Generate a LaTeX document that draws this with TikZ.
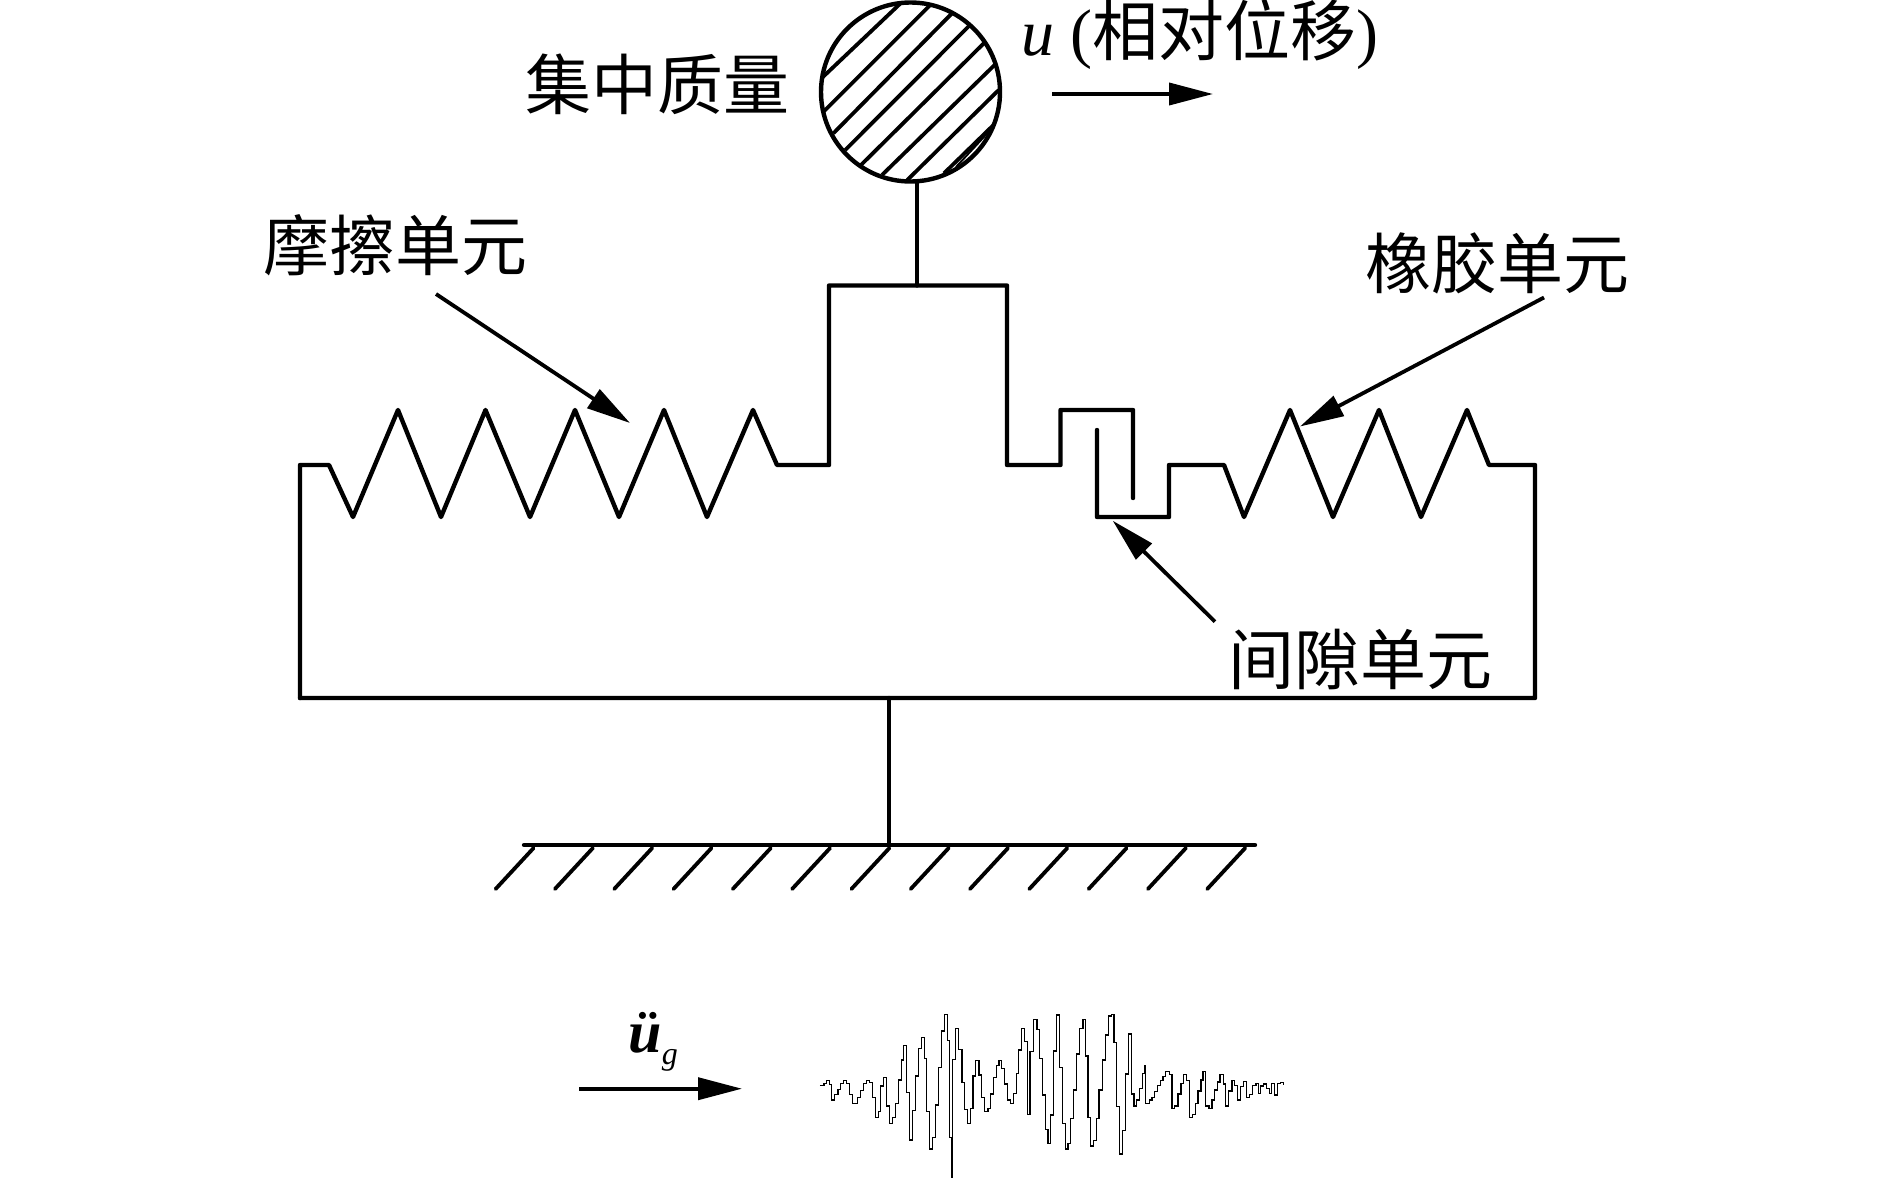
\documentclass[tikz,border=0pt]{standalone}
\usepackage{fontspec}
\setmainfont{Liberation Serif}
\newfontfamily\cjk{Noto Sans CJK SC}
\usetikzlibrary{arrows.meta}
\tikzset{
  struct/.style={line width=2.2pt,line join=round,line cap=round},
  hatchline/.style={line width=1.9pt},
  ptr/.style={line width=1.9pt,-{Triangle[length=22pt,width=11pt]}},
  cn/.style={font=\fontsize{33}{36}\selectfont\cjk,inner sep=0pt},
  wave/.style={line width=0.65pt,line join=miter}
}
\begin{document}
\begin{tikzpicture}[x=0.5pt,y=-0.5pt]
\useasboundingbox (0,0) rectangle (1889,1178);
% mass
\node[draw,circle,minimum size=89.5pt,inner sep=0pt,line width=2.2pt] (mass) at (910.5,92) {};
\draw[hatchline]
  (900.6,3.3)--(821.5,78.3) (930.3,5)--(823.5,111.7) (952,13.3)--(833.4,133.3)
  (971,24)--(845.2,150) (984.4,42.7)--(861,165) (996.3,63.3)--(882,175)
  (998.7,90)--(907.3,180) (993.5,125)--(944,173.3);
\draw[line width=1pt] (987.6,133)--(956,167);
\coordinate (top) at (917,285.5);
\draw[struct] (917,182)--(top);
% frame
\draw[struct] (300,698)--(300,465)--(329,465)--(353,517)--(398,410)--(441,517)--(485.5,410)--(530,517)--(575,410)--(619,517)--(664,410)--(707,517)--(753,410)--(777,465)--(829,465)--(829,285.5)--(1007,285.5)--(1007,465)--(1060.5,465)--(1060.5,410)--(1133,410)--(1133,498);
\draw[struct] (1097,430)--(1097,517)--(1169,517)--(1169,465)--(1224,465)--(1244,517)--(1290,410)--(1333,517)--(1379,410)--(1421,517)--(1467,410)--(1489,465)--(1535,465)--(1535,698)--(300,698);
\draw[struct] (889,698)--(889,845);
% ground
\draw[struct] (524,845)--(1255,845);
\foreach \i in {0,...,12}{
  \draw[line width=1.9pt,line cap=round] ({533.6+59.3*\i},848)--({495.6+59.3*\i},889);
}
% labels
\node[cn,anchor=center] (lumped) at (657,84) {集中质量};
\node[cn,anchor=center] (fric) at (395.5,245) {摩擦单元};
\node[cn,anchor=center] (rubber) at (1497,263) {橡胶单元};
\node[cn,anchor=center] (gap) at (1360,659) {间隙单元};
\node[anchor=base west,inner sep=0pt,font=\fontsize{33}{36}\selectfont] (ulabel) at (1021,55) {\textit{u} ({\cjk 相对位移})};
\node[anchor=base west,inner sep=0pt,font=\fontsize{30}{34}\selectfont] (uglabel) at (628,1052) {\textbf{\textit{ü}}\raisebox{-6pt}{\fontsize{16}{18}\selectfont\textit{g}}};
% arrows
\coordinate (ua) at (1052,94); \coordinate (ub) at (1213,94);
\coordinate (ga) at (579,1088.7); \coordinate (gb) at (742,1088.7);
\coordinate (fa) at (436,294); \coordinate (fb) at (630,423);
\coordinate (ra) at (1544,297.5); \coordinate (rb) at (1300,426.5);
\coordinate (pa) at (1215,621.7); \coordinate (pb) at (1112.7,520.7);
\draw[ptr] (ua)--(ub);
\draw[ptr] (ga)--(gb);
\draw[ptr] (fa)--(fb);
\draw[ptr] (ra)--(rb);
\draw[ptr] (pa)--(pb);
% waveform
\begin{scope}[shift={(780,980)},x=0.1722pt,y=-0.16667pt]
\draw[wave] plot[const plot] coordinates {
(116,316)(128,310)(136,301)(144,313)(150,360)(158,344)(168,328)(176,310)(184,301)(194,310)(202,343)(210,370)(218,370)(226,352)(234,332)(242,310)(252,301)(260,308)(268,352)(278,412)(286,394)(292,318)(300,292)(310,378)(318,430)(326,412)(336,370)(344,300)(352,240)(358,196)(368,338)(376,480)(384,392)(394,288)(402,205)(410,172)(420,235)(426,395)(434,507)(442,472)(452,375)(460,262)(468,153)(478,103)(486,182)(492,472)(498,592)(500,238)(510,145)(518,208)(528,308)(536,388)(544,430)(554,385)(560,288)(568,241)(578,285)(586,352)(594,394)(604,385)(612,342)(620,292)(628,256)(636,241)(644,265)(652,312)(660,360)(670,370)(678,340)(686,280)(692,210)(702,145)(710,185)(718,403)(726,215)(736,118)(746,148)(754,235)(762,345)(770,448)(778,490)(786,405)(794,213)(802,105)(812,262)(820,430)(828,507)(836,490)(844,415)(852,330)(860,222)(870,145)(880,118)(888,228)(894,412)(902,498)(910,482)(918,415)(926,330)(936,240)(946,165)(954,108)(962,103)(970,187)(978,380)(986,522)(994,452)(1004,282)(1012,162)(1020,342)(1028,378)(1036,360)(1044,325)(1052,280)(1060,258)(1062,370)(1072,360)(1080,352)(1088,335)(1096,316)(1104,302)(1112,290)(1120,275)(1130,283)(1138,385)(1146,378)(1156,342)(1164,310)(1172,283)(1180,302)(1188,412)(1198,404)(1206,370)(1214,333)(1222,300)(1228,274)(1236,378)(1246,385)(1254,360)(1262,330)(1270,306)(1278,284)(1288,312)(1294,378)(1302,333)(1312,302)(1320,316)(1328,360)(1338,320)(1346,304)(1354,352)(1364,344)(1372,316)(1382,310)(1390,340)(1396,318)(1404,312)(1412,325)(1422,340)(1428,310)(1436,345)(1444,310)(1454,308)(1462,316)
};
\end{scope}
\end{tikzpicture}
\end{document}
